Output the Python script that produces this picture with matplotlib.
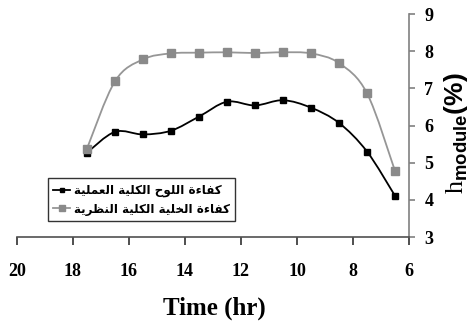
import matplotlib
matplotlib.use('Agg')
import matplotlib.pyplot as plt
from matplotlib.path import Path
from matplotlib.patches import PathPatch
from matplotlib.lines import Line2D

# values
hours = [17.5, 16.5, 15.5, 14.5, 13.5, 12.5, 11.5, 10.5, 9.5, 8.5, 7.5, 6.5]
eff_actual = [5.27, 5.83, 5.76, 5.86, 6.24, 6.64, 6.54, 6.68, 6.48, 6.07, 5.30, 4.11]
eff_theory = [5.38, 7.19, 7.78, 7.94, 7.96, 7.97, 7.95, 7.97, 7.94, 7.68, 6.87, 4.78]
series_names = ['كفاءة اللوح الكلية العملية', 'كفاءة الخلية الكلية النظرية']
x_ticks = [20, 18, 16, 14, 12, 10, 8, 6]
y_ticks = [3, 4, 5, 6, 7, 8, 9]

# contextual forms: isolated, final, initial, medial
FORMS = {
    'ء': ('\ufe80',),
    'ا': ('\ufe8d', '\ufe8e'),
    'ة': ('\ufe93', '\ufe94'),
    'ر': ('\ufead', '\ufeae'),
    'و': ('\ufeed', '\ufeee'),
    'ح': ('\ufea1', '\ufea2', '\ufea3', '\ufea4'),
    'خ': ('\ufea5', '\ufea6', '\ufea7', '\ufea8'),
    'ظ': ('\ufec5', '\ufec6', '\ufec7', '\ufec8'),
    'ع': ('\ufec9', '\ufeca', '\ufecb', '\ufecc'),
    'ف': ('\ufed1', '\ufed2', '\ufed3', '\ufed4'),
    'ك': ('\ufed9', '\ufeda', '\ufedb', '\ufedc'),
    'ل': ('\ufedd', '\ufede', '\ufedf', '\ufee0'),
    'م': ('\ufee1', '\ufee2', '\ufee3', '\ufee4'),
    'ن': ('\ufee5', '\ufee6', '\ufee7', '\ufee8'),
    'ي': ('\ufef1', '\ufef2', '\ufef3', '\ufef4'),
}


def shape(text):
    """Join arabic letters and put them in visual (left to right) order"""
    out = []
    for i, ch in enumerate(text):
        forms = FORMS.get(ch)
        if forms is None:
            out.append(ch)
            continue
        prev = text[i - 1] if i > 0 else ''
        nxt = text[i + 1] if i + 1 < len(text) else ''
        join_prev = len(FORMS.get(prev, ())) == 4 and len(forms) >= 2
        join_next = len(forms) == 4 and len(FORMS.get(nxt, ())) >= 2
        idx = {(False, False): 0, (True, False): 1,
               (False, True): 2, (True, True): 3}[(join_prev, join_next)]
        out.append(forms[idx])
    return ''.join(reversed(out))


def smooth_path(xs, ys):
    """Bezier path through the points, like a spreadsheet's smoothed line"""
    pts = list(zip(xs, ys))
    verts = [pts[0]]
    codes = [Path.MOVETO]
    for i in range(len(pts) - 1):
        p0 = pts[i - 1] if i > 0 else pts[i]
        p1, p2 = pts[i], pts[i + 1]
        p3 = pts[i + 2] if i + 2 < len(pts) else pts[i + 1]
        c1 = (p1[0] + (p2[0] - p0[0]) / 6, p1[1] + (p2[1] - p0[1]) / 6)
        c2 = (p2[0] - (p3[0] - p1[0]) / 6, p2[1] - (p3[1] - p1[1]) / 6)
        verts += [c1, c2, p2]
        codes += [Path.CURVE4] * 3
    return Path(verts, codes)


def plot_efficiency():
    plt.rcParams['mathtext.fontset'] = 'custom'
    plt.rcParams['mathtext.rm'] = 'Liberation Serif'
    plt.rcParams['mathtext.bf'] = 'Liberation Sans:bold'

    fig = plt.figure(figsize=(4.76, 3.26), dpi=100)
    ax = fig.add_axes([0.0357, 0.273, 0.8235, 0.684])

    styles = [
        dict(line='black', marker='black', ms=4.5),
        dict(line='#969696', marker='#8a8a8a', ms=5.5),
    ]
    handles = []
    for values, name, st in zip([eff_actual, eff_theory], series_names, styles):
        ax.add_patch(PathPatch(smooth_path(hours, values), fill=False,
                               edgecolor=st['line'], lw=1.3, zorder=2))
        ax.plot(hours, values, linestyle='none', marker='s', ms=st['ms'],
                color=st['marker'], zorder=3)
        handles.append(Line2D([], [], color=st['line'], lw=1.3, marker='s',
                              ms=st['ms'] - 1, markerfacecolor=st['marker'],
                              markeredgecolor=st['marker'], label=shape(name)))

    ax.set_xlim(20, 6)
    ax.set_ylim(3, 9)
    ax.set_xticks(x_ticks)
    ax.set_yticks(y_ticks)
    ax.yaxis.tick_right()
    for side in ['left', 'top']:
        ax.spines[side].set_visible(False)
    ax.spines['right'].set_color('#808080')
    ax.spines['right'].set_linewidth(1.2)
    ax.spines['bottom'].set_color('#505050')
    ax.spines['bottom'].set_linewidth(1.2)
    ax.tick_params(axis='x', direction='out', length=6, width=1.2,
                   color='#303030', pad=13)
    ax.tick_params(axis='y', direction='out', length=4, width=1.2,
                   color='#808080', pad=7)
    for lab in ax.get_xticklabels() + ax.get_yticklabels():
        lab.set_fontfamily('Liberation Serif')
        lab.set_fontweight('bold')
        lab.set_fontsize(13)

    leg = ax.legend(handles=handles, loc='lower left',
                    bbox_to_anchor=(0.079, 0.072, 0.477, 0.233), mode='expand',
                    prop=dict(family='DejaVu Sans', weight='bold', size=8.6),
                    handlelength=1.4, handletextpad=0.3, borderpad=0.45,
                    borderaxespad=0, labelspacing=0.45, fancybox=False)
    leg.get_frame().set_edgecolor('black')
    leg.get_frame().set_linewidth(1.0)

    fig.text(214 / 476, 1 - 308 / 326, 'Time (hr)', ha='center', va='center',
             family='Liberation Serif', weight='bold', size=18)
    fig.text(456 / 476, 1 - 133 / 326,
             r'$\mathrm{h}_{\mathbf{module}}\mathbf{(\%)}$',
             rotation=90, ha='center', va='center', size=19)

    fig.savefig('out.png', dpi=100)


if __name__ == '__main__':
    plot_efficiency()
